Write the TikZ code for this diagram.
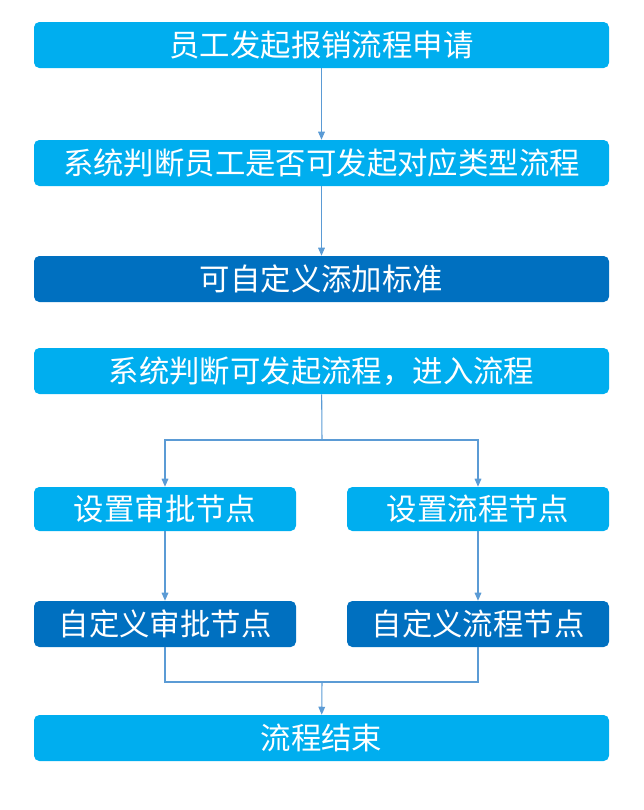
\documentclass[tikz,border=0pt]{standalone}
\usepackage{fontspec}
\newfontfamily\cjk{Noto Sans CJK SC}
\usetikzlibrary{arrows.meta}
\definecolor{lb}{HTML}{00AEEF}
\definecolor{db}{HTML}{0070C0}
\definecolor{ln}{HTML}{5B9BD5}
\begin{document}
\begin{tikzpicture}[x=0.75pt,y=-0.75pt,
  box/.style={fill=lb,rounded corners=4pt,inner sep=0pt,text=white,font=\cjk\fontsize{22.8}{26}\selectfont},
  dbox/.style={box,fill=db},
  con/.style={draw=ln,line width=0.8pt},
  arr/.style={con,-{Triangle[width=5pt,length=6pt]}}]
\path[use as bounding box] (0,0) rectangle (643,810);
\node[box,minimum width=431.25pt,minimum height=34.5pt] (a) at (321.5,45) {员工发起报销流程申请};
\node[box,minimum width=431.25pt,minimum height=34.5pt] (b) at (321.5,163) {系统判断员工是否可发起对应类型流程};
\node[dbox,minimum width=431.25pt,minimum height=34.5pt] (c) at (321.5,279) {可自定义添加标准};
\node[box,minimum width=431.25pt,minimum height=34.5pt] (d) at (321.5,371) {系统判断可发起流程，进入流程};
\node[box,minimum width=196.5pt,minimum height=33pt] (e) at (165,509) {设置审批节点};
\node[box,minimum width=196.5pt,minimum height=33pt] (f) at (478,509) {设置流程节点};
\node[dbox,minimum width=196.5pt,minimum height=34.5pt] (g) at (165,624) {自定义审批节点};
\node[dbox,minimum width=196.5pt,minimum height=34.5pt] (h) at (478,624) {自定义流程节点};
\node[box,minimum width=431.25pt,minimum height=34.5pt] (i) at (321.5,738) {流程结束};
\coordinate (s1) at (322,440);
\coordinate (s2) at (322,682);
\draw[arr] (a) -- (b);
\draw[arr] (b) -- (c);
\draw[con] (d) -- (s1);
\draw[arr] (s1) -| (e);
\draw[arr] (s1) -| (f);
\draw[arr] (e) -- (g);
\draw[arr] (f) -- (h);
\draw[con] (g) |- (s2);
\draw[con] (h) |- (s2);
\draw[arr] (s2) -- (i);
\end{tikzpicture}
\end{document}
